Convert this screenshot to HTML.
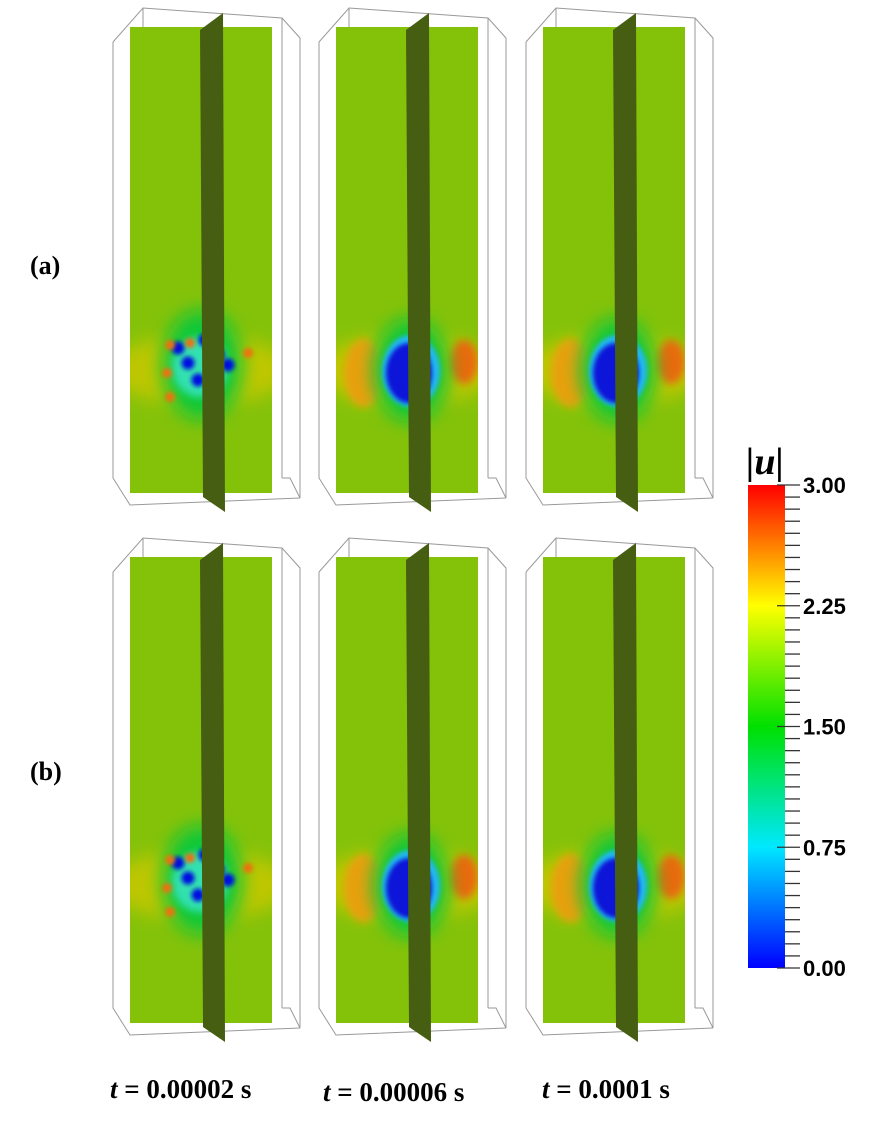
<!DOCTYPE html>
<html><head><meta charset="utf-8"><style>
html,body{margin:0;padding:0;background:#fff;}
svg{display:block;}
text{font-family:"Liberation Serif",serif;font-weight:bold;}
</style></head><body>
<svg id="fig" width="870" height="1122" viewBox="0 0 870 1122" xmlns="http://www.w3.org/2000/svg">
<defs>
<filter id="bl" x="-50%" y="-50%" width="200%" height="200%"><feGaussianBlur stdDeviation="4"/></filter>
<filter id="bl2" x="-50%" y="-50%" width="200%" height="200%"><feGaussianBlur stdDeviation="2"/></filter>
<filter id="bl8" x="-80%" y="-80%" width="260%" height="260%"><feGaussianBlur stdDeviation="9"/></filter>
<linearGradient id="cmap" x1="0" y1="1" x2="0" y2="0">
<stop offset="0" stop-color="#0000ff"/><stop offset="0.25" stop-color="#00e8ff"/>
<stop offset="0.5" stop-color="#00e000"/><stop offset="0.75" stop-color="#ffff00"/>
<stop offset="1" stop-color="#ff0000"/></linearGradient>
</defs>
<g id="panels"></g>
<text x="30" y="274" font-size="26">(a)</text>
<text x="30" y="780" font-size="26">(b)</text>
<text x="110" y="1098" font-size="27"><tspan font-style="italic">t</tspan> = 0.00002 s</text>
<text x="323" y="1101" font-size="27"><tspan font-style="italic">t</tspan> = 0.00006 s</text>
<text x="542" y="1098" font-size="27"><tspan font-style="italic">t</tspan> = 0.0001 s</text>
<g id="cbar">
<text x="746" y="474" font-size="38" font-style="italic">|u|</text>
<rect x="748" y="485" width="37" height="483" fill="url(#cmap)"/>
</g>
</svg>
<script>
const cbTicks = [0.00, 0.75, 1.50, 2.25, 3.00];
const cbMin = 0, cbMax = 3, cbMinorStep = 0.075;
const colOffsets = [0, 206, 413];
const rowOffsets = [0, 530];
const NS = "http://www.w3.org/2000/svg";
function mk(tag, attrs, parent){const e=document.createElementNS(NS,tag);for(const k in attrs)e.setAttribute(k,attrs[k]);parent.appendChild(e);return e;}
function cy(v){return 968-(v-cbMin)/(cbMax-cbMin)*483;}
const cb=document.getElementById('cbar');
for(let i=0;i<=Math.round((cbMax-cbMin)/cbMinorStep);i++){
  const v=cbMin+i*cbMinorStep;
  const major=cbTicks.some(t=>Math.abs(t-v)<1e-6);
  const l=mk('line',{x1:major?777:785,x2:800,y1:cy(v),y2:cy(v),stroke:'#333','stroke-width':1.3},cb);
  
  
}
cbTicks.forEach(t=>{
  const tx=mk('text',{x:803,y:cy(t)+8,'font-size':22,style:'font-family:"Liberation Sans",sans-serif;font-weight:bold'},cb);
  tx.textContent=t.toFixed(2);
  
  
});
const P=document.getElementById('panels');
rowOffsets.forEach((dy,r)=>colOffsets.forEach((dx,c)=>{
  const g=mk('g',{transform:`translate(${dx},${dy})`},P);
  
  
  const clipId=`cl${r}${c}`;
  const cp=mk('clipPath',{id:clipId},g);mk('rect',{x:130,y:27,width:142,height:466},cp);
  const bx=mk('g',{stroke:'#999','stroke-width':1,fill:'none'},g);
  
  
  mk('polyline',{points:'113,42 143,8 282,18 300,38 300,498 290,478 282,478'},bx);
  mk('polyline',{points:'113,42 113,478 130,505 300,498'},bx);
  mk('line',{x1:143,y1:8,x2:143,y2:470},bx);
  mk('line',{x1:282,y1:18,x2:282,y2:478},bx);
  const s=mk('g',{'clip-path':`url(#${clipId})`},g);
  mk('rect',{x:130,y:27,width:142,height:466,fill:'#84c20a'},s);
  const by = r? 350:365;
  mk('ellipse',{cx:200,cy:by+5,rx:90,ry:35,fill:'#c8c800',filter:'url(#bl8)',opacity:0.85},s);
  if(c===0){
    mk('ellipse',{cx:202,cy:by,rx:40,ry:55,fill:'#10c838',filter:'url(#bl8)'},s);
    mk('ellipse',{cx:200,cy:by+2,rx:28,ry:30,fill:'#30e0b0',filter:'url(#bl)'},s);
    [[178,by-17],[188,by-2],[198,by+15],[228,by],[205,by-25],[218,by-10]].forEach(p=>mk('circle',{cx:p[0],cy:p[1],r:6.5,fill:'#0010e0',filter:'url(#bl2)'},s));
    [[170,by+32],[170,by-20],[167,by+8],[248,by-12],[190,by-22]].forEach(p=>mk('circle',{cx:p[0],cy:p[1],r:5,fill:'#f07010',filter:'url(#bl2)'},s));
  } else {
    mk('ellipse',{cx:158,cy:by+8,rx:20,ry:34,fill:'#e8a010',filter:'url(#bl)'},s);
    mk('ellipse',{cx:258,cy:by-3,rx:14,ry:22,fill:'#e86a10',filter:'url(#bl)'},s);
    mk('ellipse',{cx:205,cy:by+5,rx:38,ry:52,fill:'#10c838',filter:'url(#bl8)'},s);
    mk('ellipse',{cx:205,cy:by+6,rx:29,ry:36,fill:'#20b8f0',filter:'url(#bl2)'},s);
    mk('ellipse',{cx:203,cy:by+8,rx:23,ry:30,fill:'#0818d8',filter:'url(#bl2)'},s);
  }
  const sl=mk('polygon',{points:'200,30 223,13 225,512 203,497',fill:'#465e12'},g);
  
  
}));
</script>
</body></html>
